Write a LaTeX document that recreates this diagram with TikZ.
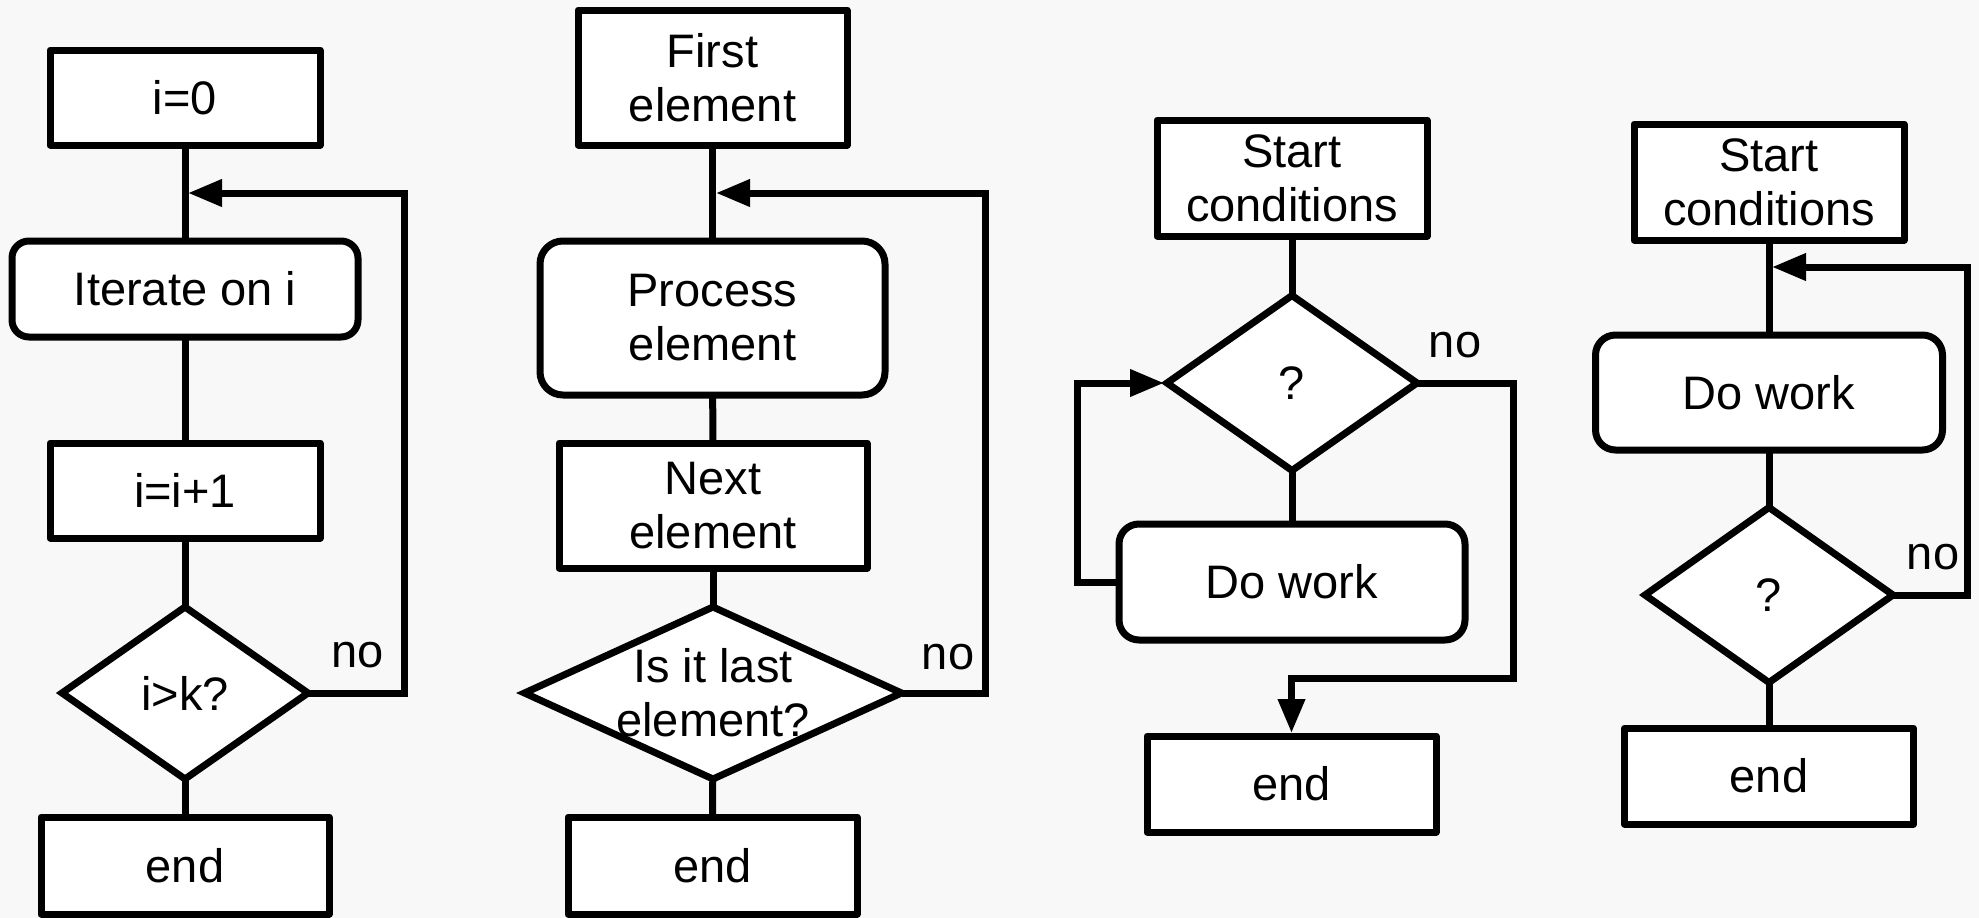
\documentclass[tikz,border=0pt]{standalone}
\usepackage{fontspec}
\setmainfont{Liberation Sans}
\usetikzlibrary{shapes.geometric,arrows.meta}
\definecolor{pagebg}{HTML}{F8F8F8}
\begin{document}
\begin{tikzpicture}[x=1pt,y=-1pt,
  font=\fontsize{47}{54}\selectfont,
  every node/.style={inner sep=0pt, outer sep=0pt},
  box/.style n args={2}{draw, fill=white, line width=7pt, line join=round,
    align=center, minimum width=#1, minimum height=#2},
  rbox/.style n args={3}{box={#1}{#2}, rounded corners=#3},
  dia/.style n args={2}{draw, fill=white, line width=7pt, diamond,
    minimum width=#1, minimum height=#2},
  flow/.style={line width=7pt},
  arr/.style={flow, -{Triangle[length=34pt,width=26pt]}, shorten >=3pt},
  lbl/.style={font=\fontsize{47}{54}\selectfont}
]
% page
\fill[pagebg] (0,0) rectangle (1979,918);
\useasboundingbox (0,0) rectangle (1979,918);

% ---- counting loop ----
\node[box={270pt}{95pt}] (b1) at (185,97.5) {i=0};
\node[rbox={346pt}{96pt}{17pt}] (r1) at (185,289) {Iterate on i};
\node[box={270pt}{95pt}] (b2) at (185,490.5) {i=i+1};
\node[dia={246pt}{172pt}, label={center:i>k?}] (d1) at (185,693) {};
\node[box={288pt}{97pt}] (e1) at (185,865.5) {end};
\coordinate (j1) at (185,193);
\coordinate (k1) at (404,193);
\node[lbl] (n1) at (358,655) {no};
\draw[flow] (b1) -- (r1);
\draw[flow] (r1) -- (b2);
\draw[flow] (b2) -- (d1);
\draw[flow] (d1) -- (e1);
\draw[arr] (d1.east) -| (k1) -- (j1);

% ---- element loop ----
\node[box={269pt}{135pt}] (b3) at (712.5,77.5) {First\\element};
\node[rbox={345pt}{154pt}{23pt}] (r2) at (712.5,318) {Process\\element};
\node[box={308pt}{125pt}] (b4) at (713,505.5) {Next\\element};
\node[dia={377pt}{172pt}, label={[align=center]center:Is it last\\element?}] (d2) at (713,693) {};
\node[box={289pt}{97pt}] (e2) at (712.5,865.5) {end};
\coordinate (j2) at (713,193);
\coordinate (k2) at (985,193);
\node[lbl] (n2) at (948,657) {no};
\draw[flow] (b3) -- (r2);
\draw[flow] (r2) -- (b4);
\draw[flow] (b4) -- (d2);
\draw[flow] (d2) -- (e2);
\draw[arr] (d2.east) -| (k2) -- (j2);

% ---- while loop ----
\node[box={270pt}{116pt}] (b5) at (1292,178) {Start\\conditions};
\node[dia={250pt}{175pt}, label={center:?}] (d3) at (1292,383) {};
\node[rbox={346pt}{116pt}{20pt}] (r3) at (1292,582) {Do work};
\node[box={289pt}{96pt}] (e3) at (1291.5,784) {end};
\coordinate (k3) at (1077,383);
\coordinate (k4) at (1513,678);
\node[lbl] (n3) at (1455,345) {no};
\draw[flow] (b5) -- (d3);
\draw[flow] (d3) -- (r3);
\draw[arr] (r3.west) -| (k3) -- (d3.west);
\draw[arr] (d3.east) -| (k4) -| (e3.north);

% ---- do-while loop ----
\node[box={270pt}{116pt}] (b6) at (1769,182) {Start\\conditions};
\node[rbox={347pt}{115pt}{20pt}] (r4) at (1769,392.5) {Do work};
\node[dia={248pt}{175pt}, label={center:?}] (d4) at (1769,595) {};
\node[box={289pt}{96pt}] (e4) at (1769,776) {end};
\coordinate (j4) at (1769,267);
\coordinate (k5) at (1967,267);
\node[lbl] (n4) at (1933,557) {no};
\draw[flow] (b6) -- (r4);
\draw[flow] (r4) -- (d4);
\draw[flow] (d4) -- (e4);
\draw[arr] (d4.east) -| (k5) -- (j4);
\end{tikzpicture}
\end{document}
